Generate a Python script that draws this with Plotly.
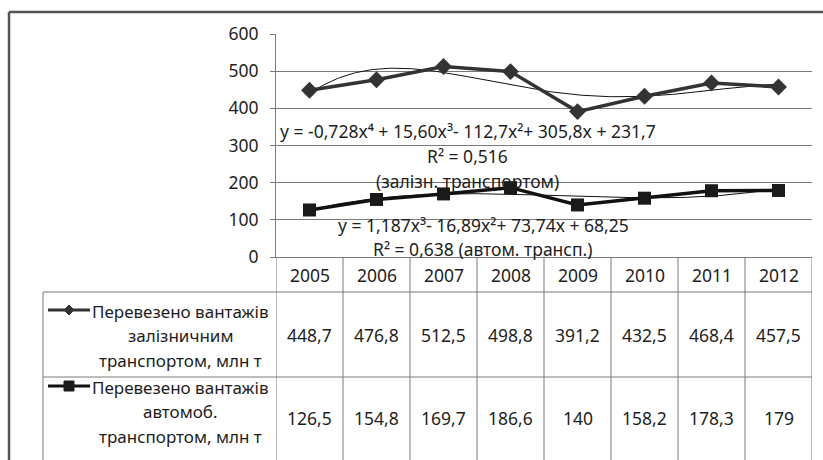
import numpy as np
import plotly.graph_objects as go

# ---------------- data ----------------
years = ["2005", "2006", "2007", "2008", "2009", "2010", "2011", "2012"]
rail = [448.7, 476.8, 512.5, 498.8, 391.2, 432.5, 468.4, 457.5]
auto = [126.5, 154.8, 169.7, 186.6, 140, 158.2, 178.3, 179]
rail_name = ["Перевезено вантажів", "залізничним", "транспортом, млн т"]
auto_name = ["Перевезено вантажів", "автомоб.", "транспортом, млн т"]
rail_eq = ["y = -0,728x⁴ + 15,60x³- 112,7x²+ 305,8x + 231,7", "R² = 0,516", "(залізн. транспортом)"]
auto_eq = ["y = 1,187x³- 16,89x²+ 73,74x + 68,25", "R² = 0,638 (автом. трансп.)"]
y_ticks = [0, 100, 200, 300, 400, 500, 600]

# ---------------- layout helpers ----------------
W, H = 823, 460
FONT = "Noto Sans, DejaVu Sans, sans-serif"
TXT = "#1e1e1e"
GRID = "#7a7a7a"


def px(x):
    return x / W


def py(y):
    return 1 - y / H


def fmt(v):
    return ("%g" % v).replace(".", ",")


def note(x, y, text, font, xref="paper", xanchor="center"):
    return dict(x=x, y=y, xref=xref, yref="paper", text=text, showarrow=False,
                xanchor=xanchor, yanchor="middle", font=font, borderpad=0)


n = len(years)
xi = np.arange(1, n + 1)

fig = go.Figure()

# trend lines (polynomial fits of the data, as in the source)
xs = np.linspace(1, n, 200)
c_rail = np.polyfit(xi, rail, 4)
c_auto = np.polyfit(xi, auto, 3)
fig.add_trace(go.Scatter(x=xs, y=np.polyval(c_rail, xs), mode="lines",
                         line=dict(color="#111", width=1), hoverinfo="skip"))
fig.add_trace(go.Scatter(x=xs, y=np.polyval(c_auto, xs), mode="lines",
                         line=dict(color="#111", width=1), hoverinfo="skip"))

# data series
fig.add_trace(go.Scatter(x=xi, y=rail, mode="lines+markers",
                         line=dict(color="#333", width=3.5),
                         marker=dict(symbol="diamond", size=13, color="#333")))
fig.add_trace(go.Scatter(x=xi, y=auto, mode="lines+markers",
                         line=dict(color="#111", width=3.5),
                         marker=dict(symbol="square", size=13, color="#1a1a1a")))

shapes = []
ann = []

# outer frame
shapes.append(dict(type="line", xref="paper", yref="paper", x0=px(9), x1=1, y0=py(12), y1=py(12),
                   line=dict(color="#555", width=2.5)))
shapes.append(dict(type="line", xref="paper", yref="paper", x0=px(9), x1=px(9), y0=py(12), y1=0,
                   line=dict(color="#555", width=2.5)))

# table lines
for k in range(n + 1):
    shapes.append(dict(type="line", xref="x", yref="paper", x0=0.5 + k, x1=0.5 + k,
                       y0=py(257), y1=0, line=dict(color=GRID, width=1)))
for yy in (292, 377):
    shapes.append(dict(type="line", xref="paper", yref="paper", x0=px(43), x1=px(812),
                       y0=py(yy), y1=py(yy), line=dict(color=GRID, width=1)))
shapes.append(dict(type="line", xref="paper", yref="paper", x0=px(43), x1=px(43),
                   y0=py(292), y1=0, line=dict(color=GRID, width=1)))

num_font = dict(size=17.5, color=TXT, family=FONT)
lbl_font = dict(size=17, color=TXT, family=FONT)

# year headers and values
for i in range(n):
    ann.append(note(xi[i], py(275), years[i], num_font, xref="x"))
    ann.append(note(xi[i], py(335), fmt(rail[i]), num_font, xref="x"))
    ann.append(note(xi[i], py(418), fmt(auto[i]), num_font, xref="x"))

# legend cells (row labels)
for lines, y0 in ((rail_name, 311), (auto_name, 387)):
    for j, t in enumerate(lines):
        if j == 0:
            ann.append(note(px(91), py(y0), t, lbl_font, xanchor="left"))
        else:
            ann.append(note(px(180), py(y0 + 24.5 * j), t, lbl_font))

# legend keys
shapes.append(dict(type="line", xref="paper", yref="paper", x0=px(48), x1=px(90), y0=py(310), y1=py(310),
                   line=dict(color="#333", width=3)))
cx, cy, r = 69, 310, 5
shapes.append(dict(type="path", xref="paper", yref="paper",
                   path="M %f %f L %f %f L %f %f L %f %f Z" % (
                       px(cx - r), py(cy), px(cx), py(cy - r), px(cx + r), py(cy), px(cx), py(cy + r)),
                   fillcolor="#333", line=dict(color="#333", width=1)))
shapes.append(dict(type="line", xref="paper", yref="paper", x0=px(48), x1=px(90), y0=py(386), y1=py(386),
                   line=dict(color="#111", width=3)))
shapes.append(dict(type="rect", xref="paper", yref="paper", x0=px(64), x1=px(74), y0=py(391), y1=py(381),
                   fillcolor="#1a1a1a", line=dict(color="#1a1a1a", width=1)))

# trend equations
eq_font = dict(size=17.5, color=TXT, family=FONT)
for j, t in enumerate(rail_eq):
    ann.append(note(px(468), py([131, 155.5, 181][j]), t, eq_font))
for j, t in enumerate(auto_eq):
    ann.append(note(px(483), py([225, 249][j]), t, eq_font))

fig.update_layout(
    width=W, height=H,
    margin=dict(l=0, r=0, t=0, b=0, autoexpand=False),
    paper_bgcolor="white", plot_bgcolor="white",
    showlegend=False,
    shapes=shapes,
    annotations=ann,
    xaxis=dict(domain=[px(276), px(812)], range=[0.5, n + 0.5], showticklabels=False,
               showgrid=False, zeroline=False, showline=True, linecolor=GRID, linewidth=1,
               ticks="", automargin=False),
    yaxis=dict(domain=[py(257), py(34)], range=[0, 600], tickvals=y_ticks,
               showgrid=True, gridcolor=GRID, gridwidth=1, zeroline=False,
               showline=True, linecolor=GRID, linewidth=1, automargin=False,
               ticks="outside", ticklen=5, tickcolor=GRID, ticklabelstandoff=8,
               tickfont=dict(size=17.5, color=TXT, family=FONT)),
)

fig.write_html("out.html")
